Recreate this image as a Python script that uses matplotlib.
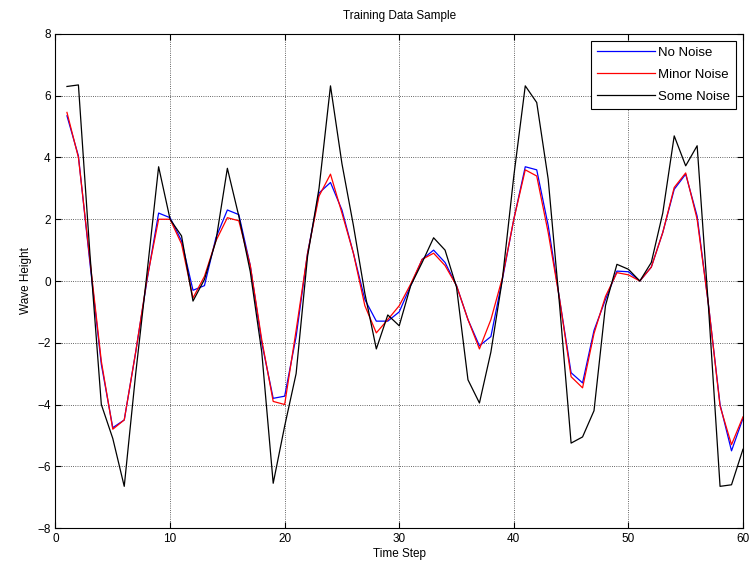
import matplotlib.pyplot as plt

time_step = list(range(1, 61))

no_noise = [5.35, 4.05, 0.6, -2.7, -4.75, -4.5, -2.3, 0.05, 2.2, 2.05,
            1.3, -0.3, -0.15, 1.4, 2.3, 2.15, 0.5, -2.0, -3.8, -3.73,
            -1.8, 0.9, 2.85, 3.19, 2.3, 0.9, -0.6, -1.3, -1.3, -1.0,
            -0.15, 0.7, 1.0, 0.6, -0.15, -1.25, -2.1, -1.8, 0.05, 2.0,
            3.7, 3.6, 1.8, -0.6, -2.97, -3.3, -1.6, -0.6, 0.32, 0.3,
            0.0, 0.45, 1.57, 2.97, 3.46, 2.1, -0.8, -4.0, -5.5, -4.45]

minor_noise = [5.46, 4.0, 0.7, -2.6, -4.8, -4.5, -2.3, 0.1, 2.0, 2.0,
               1.2, -0.55, 0.15, 1.3, 2.05, 1.95, 0.5, -1.9, -3.9, -4.0,
               -1.6, 0.9, 2.75, 3.46, 2.2, 0.9, -0.8, -1.68, -1.25, -0.8,
               -0.1, 0.7, 0.9, 0.5, -0.15, -1.25, -2.2, -1.25, 0.1, 2.0,
               3.6, 3.4, 1.57, -0.6, -3.1, -3.46, -1.7, -0.5, 0.27, 0.2,
               0.0, 0.45, 1.57, 3.03, 3.5, 2.0, -0.8, -4.05, -5.3, -4.4]

some_noise = [6.3, 6.35, 0.9, -4.0, -5.1, -6.65, -3.0, 0.3, 3.7, 2.0,
              1.46, -0.65, 0.05, 1.3, 3.65, 2.1, 0.3, -2.3, -6.55, -4.7,
              -3.0, 0.8, 3.0, 6.32, 3.8, 1.8, -0.4, -2.2, -1.1, -1.45,
              -0.15, 0.6, 1.4, 1.0, -0.2, -3.2, -3.95, -2.3, 0.05, 3.4,
              6.32, 5.78, 3.3, -0.8, -5.25, -5.05, -4.2, -0.8, 0.54, 0.38,
              0.0, 0.6, 2.2, 4.7, 3.73, 4.38, -0.9, -6.65, -6.6, -5.45]

plt.rcParams['font.family'] = ['Liberation Sans', 'DejaVu Sans']
plt.rcParams['font.size'] = 8.5

fig = plt.figure(figsize=(7.51, 5.74), dpi=100)
ax = fig.add_axes([0.0739, 0.0801, 0.9154, 0.8607])

ax.plot(time_step, no_noise, color='blue', lw=0.9, label='No Noise')
ax.plot(time_step, minor_noise, color='red', lw=0.9, label='Minor Noise')
ax.plot(time_step, some_noise, color='black', lw=0.9, label='Some Noise')

ax.set_xlim(0, 60)
ax.set_ylim(-8, 8)
ax.set_xticks(range(0, 61, 10))
ax.set_yticks(range(-8, 9, 2))
ax.grid(True, linestyle=':', color='#333333', lw=0.6)
ax.tick_params(direction='in', top=True, right=True, length=4, width=0.8)
for s in ax.spines.values():
    s.set_linewidth(0.8)

ax.set_title('Training Data Sample', fontsize=8.5, pad=11)
ax.set_xlabel('Time Step', labelpad=2)
ax.set_ylabel('Wave Height', labelpad=4)

leg = ax.legend(loc='upper right', fancybox=False, edgecolor='black',
                framealpha=1, handlelength=4.4, borderaxespad=0.5,
                labelspacing=0.75, handletextpad=0.25, borderpad=0.45,
                fontsize=9.5)
leg.get_frame().set_linewidth(0.8)

fig.savefig('out.png', dpi=100)
